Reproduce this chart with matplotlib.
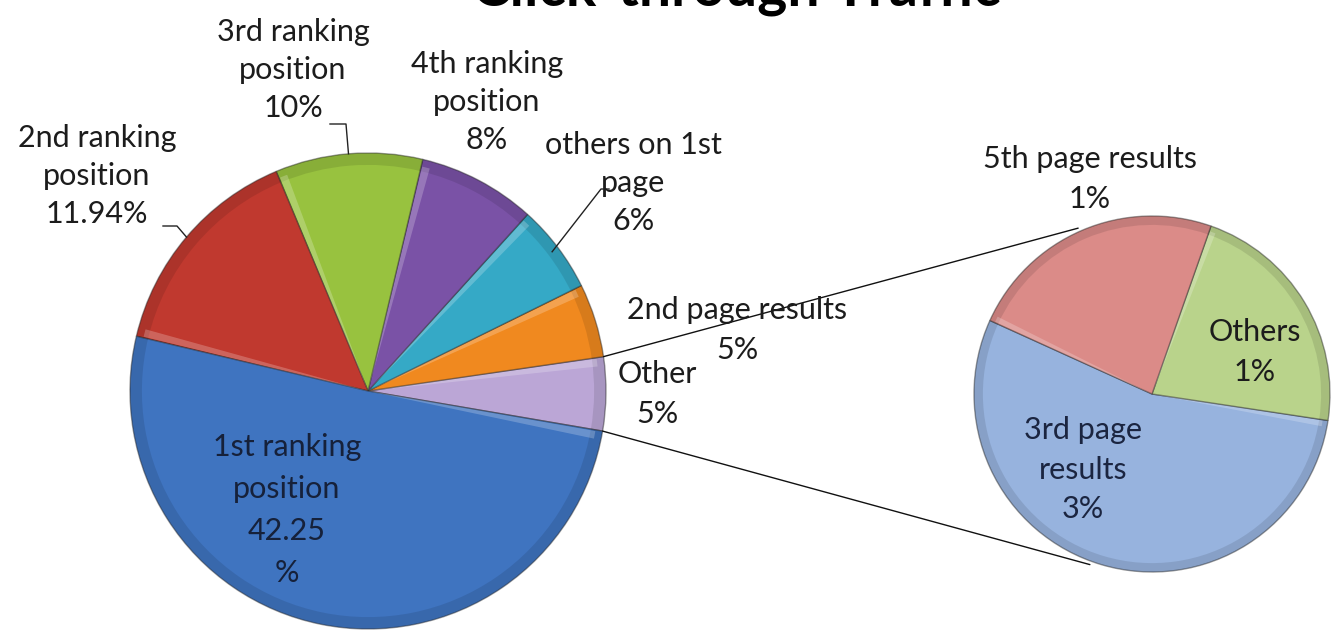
import matplotlib
matplotlib.use('Agg')
import matplotlib.pyplot as plt
from matplotlib.patches import ConnectionPatch, Wedge
from matplotlib.lines import Line2D
import numpy as np

# ---------------- data ----------------
title = 'Click-through Traffic'
main_categories = ['Other', '2nd page results', 'others on 1st page',
                   '4th ranking position', '3rd ranking position',
                   '2nd ranking position', '1st ranking position']
main_shares = [5, 5, 6, 8, 10, 15, 51]
main_labels = ['Other\n5%', '2nd page results\n5%', 'others on 1st\npage\n6%',
               '4th ranking\nposition\n8%', '3rd ranking\nposition\n10%',
               '2nd ranking\nposition\n11.94%', '1st ranking\nposition\n42.25\n%']
main_colors = ['#bba6d6', '#f0891f', '#35a9c6', '#7a52a6', '#98c23f',
               '#c0392f', '#3f74c0']

sub_categories = ['3rd page results', 'Others', '5th page results']
sub_values = [2.72, 1.1, 1.18]
sub_labels = ['3rd page\nresults\n3%', 'Others\n1%', '5th page results\n1%']
sub_colors = ['#97b3de', '#b9d38b', '#db8b88']

# ---------------- layout ----------------
W, H = 1335, 632
fig = plt.figure(figsize=(W / 100, H / 100), dpi=100)
fig.patch.set_facecolor('white')
plt.rcParams['font.family'] = ['Lato', 'DejaVu Sans']


def fx(px):
    return px / W


def fy(py):
    return 1 - py / H


def axes_box(cx, cy, r):
    return [fx(cx - r), fy(cy + r), 2 * r / W, 2 * r / H]


ax1 = fig.add_axes(axes_box(368, 391, 238))
ax2 = fig.add_axes(axes_box(1152, 394, 178))

w1, _ = ax1.pie(main_shares, colors=main_colors, startangle=-9.7,
                counterclock=True,
                wedgeprops=dict(edgecolor=(0.15, 0.15, 0.15, 0.45), linewidth=1.0))
w2, _ = ax2.pie(sub_values, colors=sub_colors, startangle=155.6,
                counterclock=True,
                wedgeprops=dict(edgecolor=(0.15, 0.15, 0.15, 0.45), linewidth=1.0))
for ax in (ax1, ax2):
    ax.set_xlim(-1.0, 1.0)
    ax.set_ylim(-1.0, 1.0)
    ax.set_aspect('equal')
    ax.axis('off')

# subtle bevel: darker rim plus light leading edge
for ax, wedges in ((ax1, w1), (ax2, w2)):
    for w in wedges:
        ax.add_patch(Wedge((0, 0), 1.0, w.theta1, w.theta2, width=0.05,
                           facecolor='black', alpha=0.10, edgecolor='none'))
        ax.add_patch(Wedge((0, 0), 0.97, w.theta2 - 2.2, w.theta2 - 0.3,
                           facecolor='white', alpha=0.22, edgecolor='none'))

# title (partly above the image, as in the reference)
fig.text(0.5513, fy(5), title, ha='center', va='baseline', fontsize=41,
         fontweight='bold', color='black')

fs = 22
txt_color = '#1c1c1c'
main_label_pos = {
    'Other': (657, 394),
    '2nd page results': (737, 330),
    'others on 1st page': (633, 183),
    '4th ranking position': (487, 102),
    '3rd ranking position': (293, 70),
    '2nd ranking position': (97, 176),
    '1st ranking position': (287, 510),
}
for cat, lab in zip(main_categories, main_labels):
    px, py = main_label_pos[cat]
    col = '#16213a' if cat == '1st ranking position' else txt_color
    ls = 1.6 if cat == '1st ranking position' else 1.42
    if cat in ('Other', '2nd page results'):
        ls = 1.5
    fig.text(fx(px), fy(py), lab, ha='center', va='center', fontsize=fs,
             color=col, linespacing=ls)

sub_label_pos = {
    '3rd page results': (1083, 470),
    'Others': (1255, 352),
    '5th page results': (1090, 179),
}
for cat, lab in zip(sub_categories, sub_labels):
    px, py = sub_label_pos[cat]
    col = '#1b2540' if cat == '3rd page results' else txt_color
    fig.text(fx(px), fy(py), lab, ha='center', va='center', fontsize=fs,
             color=col, linespacing=1.5)


# leader lines
def wedge_point(ax, w, r=1.0):
    mid = np.deg2rad((w.theta1 + w.theta2) / 2)
    p = ax.transData.transform((r * np.cos(mid), r * np.sin(mid)))
    return fig.transFigure.inverted().transform(p)


def leader(points_px, end_fig):
    xs = [fx(p[0]) for p in points_px] + [end_fig[0]]
    ys = [fy(p[1]) for p in points_px] + [end_fig[1]]
    fig.add_artist(Line2D(xs, ys, color='#222222', lw=1.0))


leader([(330, 124), (346, 124)], wedge_point(ax1, w1[4]))
leader([(163, 226), (177, 226)], wedge_point(ax1, w1[5]))
leader([(609, 189), (601, 189)], wedge_point(ax1, w1[2], 0.97))

# connector lines between the "Other" slice and the sub pie
oth = w1[0]
for ta, tb in ((oth.theta2, 114), (oth.theta1, 250)):
    a = np.deg2rad(ta)
    b = np.deg2rad(tb)
    con = ConnectionPatch(xyA=(np.cos(a), np.sin(a)), coordsA=ax1.transData,
                          xyB=(1.02 * np.cos(b), 1.02 * np.sin(b)),
                          coordsB=ax2.transData, color='#111111', lw=1.0)
    fig.add_artist(con)

fig.savefig('out.png', dpi=100, facecolor='white')
